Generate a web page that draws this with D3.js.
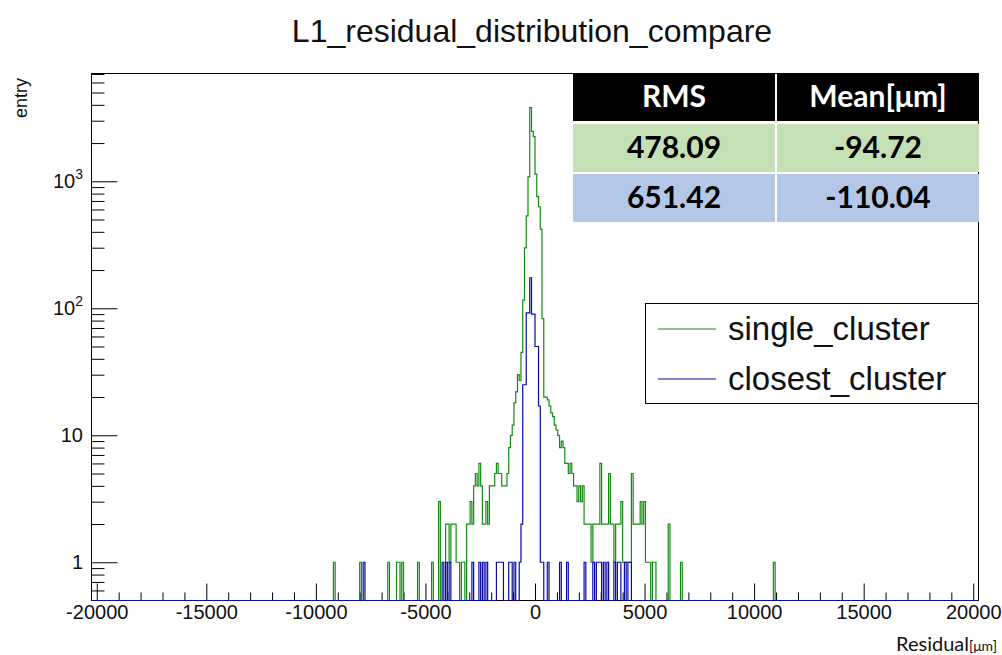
<!DOCTYPE html>
<html><head><meta charset="utf-8">
<script src="https://cdn.jsdelivr.net/npm/d3@7"></script>
<style>
html,body{margin:0;padding:0;background:#fff;}
svg{display:block;}
</style></head><body>
<svg id="c" width="1002" height="655"></svg>
<script>
// ---------------- data ----------------
const chartTitle = "L1_residual_distribution_compare";
const xAxisLabel = "Residual";
const xAxisUnit = "[μm]";
const yAxisLabel = "entry";
const seriesNames = ["single_cluster", "closest_cluster"];
const seriesColors = ["#138a13", "#0a0aa5"];
const binWidth = 80;
const histRange = [-20240, 20240];
const yRange = [0.5, 7060];
const xTickValues = [-20000, -15000, -10000, -5000, 0, 5000, 10000, 15000, 20000];
const yTickValues = [1, 10, 100, 1000];
const yTickBase = ["1", "10", "10", "10"];
const yTickExp = ["", "", "2", "3"];

// single_cluster: lower bin edge [µm] and entries
const singleBins = [-9200,-8000,-6720,-6320,-6240,-6080,-5360,-4720,-4400,
  -4080,-4000,-3920,-3840,-3760,-3680,-3600,-3520,-3360,-3280,
  -3120,-3040,-2960,-2880,-2800,-2720,-2640,-2560,-2480,
  -2400,-2320,-2240,-2160,-2080,-2000,-1920,-1840,-1760,-1680,-1600,
  -1520,-1440,-1360,-1280,-1200,-1120,-1040,-960,-880,-800,-720,-640,
  -560,-480,-400,-320,-240,-160,-80,0,80,160,240,320,
  400,480,560,640,720,800,880,960,1040,1120,1200,1280,1360,1440,1520,1600,1680,
  1760,1840,1920,2000,2080,2160,2240,2320,2400,2480,2560,2640,2720,2800,2880,2960,
  3040,3120,3200,3280,3360,3440,3520,3600,3680,3760,3840,3920,4000,4080,4160,4240,4320,
  4400,4480,4560,4640,4720,4800,4880,4960,5040,5120,5200,5360,5440,6080,6640,10880];
const singleCounts = [1,1,1,1,1,1,1,1,3,
  2,2,1,2,2,2,1,1,1,1,
  2,2,3,2,4,5,4,6,4,
  2,2,3,2,4,4,4,5,6,5,5,
  4,4,4,5,8,10,12,18,22,30,27,45,
  116,299,535,1082,3800,2470,2250,1140,757,630,420,83,
  20,20,19,17,15,14,12,11,10,8,9,8,6,6,5,6,5,
  4,4,3,4,3,4,2,2,2,2,1,2,2,2,2,6,
  2,2,2,2,5,2,2,1,2,2,2,3,1,1,1,1,1,
  5,2,2,2,2,3,2,3,1,1,1,1,1,2,1,1];

// closest_cluster
const closestBins = [-7840,-4240,-4080,-3920,-2880,-2560,-2400,-2240,-1760,-1680,-1600,
  -1520,-1200,-1120,-960,-720,-640,-560,-480,-400,-320,-240,-160,-80,0,80,160,240,320,
  560,1120,1440,2240,2640,2800,2880,2960,3120,3280,3600,3760,3840,4080,4240,4320];
const closestCounts = [1,1,1,1,1,1,1,1,1,1,1,
  1,1,1,1,1,2,25,25,92,92,174,90,90,50,50,17,1,1,
  1,1,1,1,1,1,1,1,1,1,1,1,1,1,1,1];

const tableHeader = ["RMS", "Mean[μm]"];
const tableRMS = ["478.09", "651.42"];
const tableMean = ["-94.72", "-110.04"];
const tableRowColors = ["#c5e0b4", "#b4c7e7"];

// ---------------- drawing ----------------
const svg = d3.select("#c");
const L = 91.5, R = 978.5, T = 73.5, B = 600.5;
const x = d3.scaleLinear().domain(histRange).range([L, R]);
const y = d3.scaleLog().domain(yRange).range([B, T]);
const font = "'Liberation Sans', Arial, Helvetica, sans-serif";

// title
svg.append("text").attr("x", 532).attr("y", 42).attr("text-anchor", "middle")
  .attr("font-family", font).attr("font-size", 32).attr("fill", "#111").text(chartTitle);

// frame
svg.append("rect").attr("x", L).attr("y", T).attr("width", R - L).attr("height", B - T)
  .attr("fill", "none").attr("stroke", "#000").attr("stroke-width", 1);

// x axis (ticks inside)
const xMinor = d3.range(-20000, 20001, 1000).filter(v => v % 5000 !== 0);
const gxMinor = svg.append("g").attr("transform", `translate(0,${B})`)
  .call(d3.axisBottom(x).tickValues(xMinor).tickSize(-8).tickFormat(""));
const gx = svg.append("g").attr("transform", `translate(0,${B})`)
  .call(d3.axisBottom(x).tickValues(xTickValues).tickSize(-17).tickPadding(4).tickFormat(d => String(d)));
[gxMinor, gx].forEach(g => { g.selectAll(".domain").remove(); g.selectAll("line").attr("stroke", "#000"); });
gx.selectAll("text").attr("font-family", font).attr("font-size", 20).attr("fill", "#111");

// y axis (ticks inside)
const yMinor = [];
[0.1, 1, 10, 100, 1000].forEach(dec => { for (let k = 2; k <= 9; k++) { const v = k * dec; if (v > yRange[0] && v < yRange[1] && v !== 10) yMinor.push(v); } });
const gyMinor = svg.append("g").attr("transform", `translate(${L},0)`)
  .call(d3.axisLeft(y).tickValues(yMinor).tickSize(-13).tickFormat(""));
const gy = svg.append("g").attr("transform", `translate(${L},0)`)
  .call(d3.axisLeft(y).tickValues(yTickValues).tickSize(-26).tickFormat(""));
[gyMinor, gy].forEach(g => { g.selectAll(".domain").remove(); g.selectAll("line").attr("stroke", "#000"); });
yTickValues.forEach((v, i) => {
  const t = svg.append("text").attr("x", 83).attr("y", y(v) + 7).attr("text-anchor", "end")
    .attr("font-family", font).attr("font-size", 20).attr("fill", "#111");
  t.append("tspan").text(yTickBase[i]);
  if (yTickExp[i]) t.append("tspan").attr("dy", -9).attr("font-size", 14).text(yTickExp[i]);
});

// y label
svg.append("text").attr("transform", `translate(27,78) rotate(-90)`).attr("text-anchor", "end")
  .attr("font-family", font).attr("font-size", 18).attr("fill", "#111").text(yAxisLabel);

// x label
const xl = svg.append("text").attr("x", 997).attr("y", 651).attr("text-anchor", "end")
  .attr("font-family", "Lato, 'Open Sans', sans-serif").attr("font-size", 20).attr("fill", "#111");
xl.append("tspan").text(xAxisLabel);
xl.append("tspan").attr("font-size", 14).text(xAxisUnit);

// histograms
svg.append("clipPath").attr("id", "fr").append("rect")
  .attr("x", L).attr("y", T).attr("width", R - L).attr("height", B - T + 1);
function fullCounts(bins, counts) {
  const n = Math.round((histRange[1] - histRange[0]) / binWidth);
  const arr = new Array(n).fill(0);
  bins.forEach((b, i) => { arr[Math.round((b - histRange[0]) / binWidth)] = counts[i]; });
  return arr;
}
function stepPath(arr) {
  const yc = c => c > 0 ? y(c) : B;
  let d = `M${x(histRange[0])},${yc(arr[0])}`;
  arr.forEach((c, i) => {
    if (i > 0) d += `V${yc(c)}`;
    d += `H${x(histRange[0] + (i + 1) * binWidth)}`;
  });
  return d;
}
[[singleBins, singleCounts], [closestBins, closestCounts]].forEach(([b, c], i) => {
  svg.append("path").attr("d", stepPath(fullCounts(b, c))).attr("clip-path", "url(#fr)")
    .attr("fill", "none").attr("stroke", seriesColors[i]).attr("stroke-width", 1.2);
});

// legend
const lg = svg.append("g");
lg.append("rect").attr("x", 645.5).attr("y", 303.5).attr("width", 333).attr("height", 100)
  .attr("fill", "#fff").attr("stroke", "#000");
seriesNames.forEach((s, i) => {
  const ly = 329 + i * 50;
  lg.append("line").attr("x1", 658).attr("x2", 716).attr("y1", ly).attr("y2", ly)
    .attr("stroke", seriesColors[i]).attr("stroke-width", 1.2);
  lg.append("text").attr("x", 728).attr("y", ly + 11).attr("font-family", font)
    .attr("font-size", 33).attr("fill", "#111").text(s);
});

// table
const colX = [573, 777], colW = 202, rowY = [73, 124, 174], rowH = 48;
const rows = [
  {fill: "#000", color: "#fff", cells: tableHeader},
  {fill: tableRowColors[0], color: "#000", cells: [tableRMS[0], tableMean[0]]},
  {fill: tableRowColors[1], color: "#000", cells: [tableRMS[1], tableMean[1]]}
];
const tg = svg.append("g");
rows.forEach((r, ri) => {
  r.cells.forEach((txt, ci) => {
    tg.append("rect").attr("x", colX[ci]).attr("y", rowY[ri]).attr("width", colW).attr("height", rowH)
      .attr("fill", r.fill);
    tg.append("text").attr("x", colX[ci] + colW / 2).attr("y", rowY[ri] + rowH / 2 + 10)
      .attr("text-anchor", "middle").attr("font-family", "Lato, 'Open Sans', sans-serif")
      .attr("font-weight", "bold").attr("font-size", 30).attr("fill", r.color).text(txt);
  });
});
</script>
</body></html>
